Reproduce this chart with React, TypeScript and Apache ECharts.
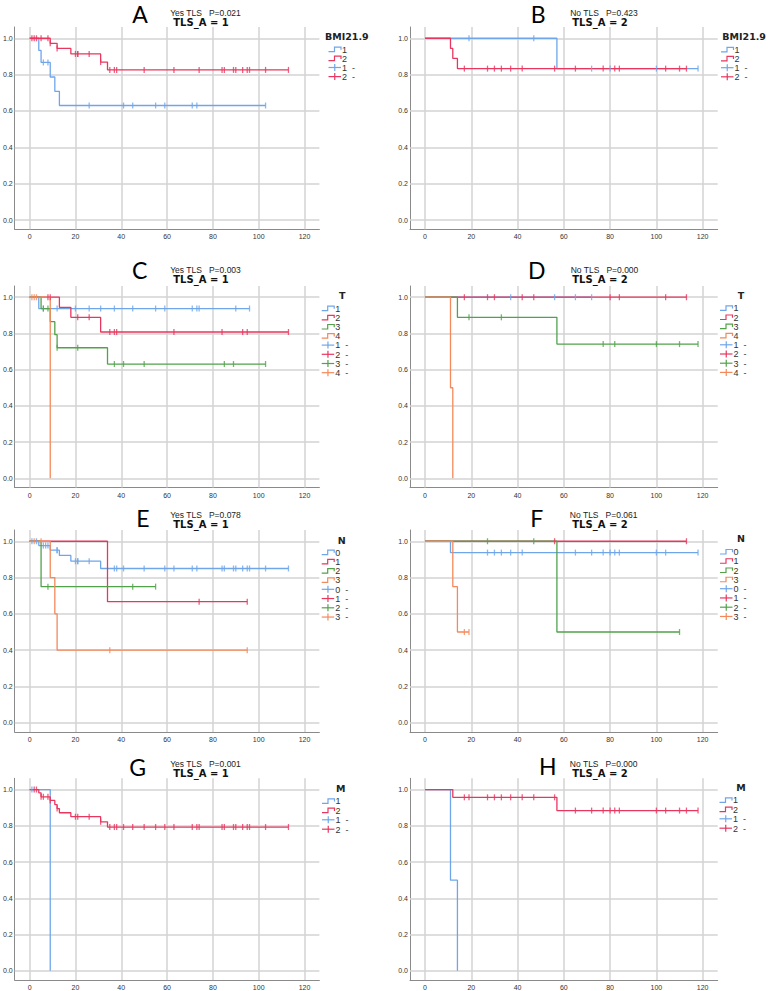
import React, { useEffect, useRef } from "react";
import * as echarts from "echarts";

// ---------------- data ----------------
const X_TICKS = [0, 20, 40, 60, 80, 100, 120];
const Y_TICKS = [0, 0.2, 0.4, 0.6, 0.8, 1.0];

const PANEL_LETTERS = ["A", "B", "C", "D", "E", "F", "G", "H"];
const PANEL_SUBTITLES = [
  "Yes TLS   P=0.021",
  "No TLS   P=0.423",
  "Yes TLS   P=0.003",
  "No TLS   P=0.000",
  "Yes TLS   P=0.078",
  "No TLS   P=0.061",
  "Yes TLS   P=0.001",
  "No TLS   P=0.000",
];
const PANEL_STRATA = ["TLS_A = 1", "TLS_A = 2", "TLS_A = 1", "TLS_A = 2", "TLS_A = 1", "TLS_A = 2", "TLS_A = 1", "TLS_A = 2"];
const LEGEND_TITLES = ["BMI21.9", "BMI21.9", "T", "T", "N", "N", "M", "M"];

// Panel A (BMI21.9, TLS_A = 1)
const A_G1_STEPS = [[0, 1], [4, 0.933], [5, 0.867], [9, 0.787], [11, 0.708], [13, 0.63]];
const A_G1_CENSOR = [6, 8, 26, 41, 45, 55, 59, 71, 73, 103];
const A_G2_STEPS = [[0, 1], [9, 0.972], [12, 0.944], [18, 0.914], [31, 0.869], [34, 0.826]];
const A_G2_CENSOR = [1, 2, 3, 5, 8, 9, 12, 20, 21, 21, 26, 31, 35, 37, 38, 50, 63, 74, 84, 85, 89, 90, 93, 95, 96, 103, 113];

// Panel B (BMI21.9, TLS_A = 2)
const B_G1_STEPS = [[0, 1], [57, 0.833]];
const B_G1_CENSOR = [19, 47, 72, 80, 100, 118];
const B_G2_STEPS = [[0, 1], [11, 0.944], [12, 0.889], [14, 0.833]];
const B_G2_CENSOR = [17, 27, 30, 33, 37, 42, 56, 65, 77, 82, 84, 104, 110, 113];

// Panel C (T, TLS_A = 1)
const C_T1_STEPS = [[0, 1], [4, 0.9375]];
const C_T1_CENSOR = [6, 12, 20, 26, 31, 37, 45, 55, 59, 71, 73, 74, 90, 96];
const C_T2_STEPS = [[0, 1], [13, 0.944], [18, 0.889], [31, 0.808]];
const C_T2_CENSOR = [8, 9, 21, 26, 35, 37, 38, 63, 84, 93, 95, 113];
const C_T3_STEPS = [[0, 1], [5, 0.9375], [9, 0.865], [11, 0.793], [12, 0.721], [34, 0.631]];
const C_T3_CENSOR = [6, 8, 12, 21, 37, 41, 50, 85, 89, 103];
const C_T4_STEPS = [[0, 1], [9, 0]];
const C_T4_CENSOR = [1, 2, 3];

// Panel D (T, TLS_A = 2)
const D_T1_STEPS = [[0, 1]];
const D_T1_CENSOR = [37, 56, 65, 72];
const D_T2_STEPS = [[0, 1]];
const D_T2_CENSOR = [17, 27, 30, 42, 47, 80, 84, 104, 113];
const D_T3_STEPS = [[0, 1], [14, 0.889], [57, 0.741]];
const D_T3_CENSOR = [19, 33, 77, 82, 100, 110, 118];
const D_T4_STEPS = [[0, 1], [11, 0.5], [12, 0]];
const D_T4_CENSOR: number[] = [];

// Panel E (N, TLS_A = 1)
const E_N0_STEPS = [[0, 1], [4, 0.976], [9, 0.951], [13, 0.922], [18, 0.89], [31, 0.85]];
const E_N0_CENSOR = [1, 3, 6, 7, 8, 12, 12, 20, 21, 21, 26, 37, 38, 41, 50, 59, 63, 71, 73, 84, 85, 89, 90, 93, 95, 96, 103, 113];
const E_N1_STEPS = [[0, 1], [34, 0.667]];
const E_N1_CENSOR = [74, 95];
const E_N2_STEPS = [[0, 1], [5, 0.75]];
const E_N2_CENSOR = [8, 45, 55];
const E_N3_STEPS = [[0, 1], [9, 0.8], [11, 0.6], [12, 0.4]];
const E_N3_CENSOR = [2, 5, 35, 95];

// Panel F (N, TLS_A = 2)
const F_N0_STEPS = [[0, 1], [11, 0.9375]];
const F_N0_CENSOR = [27, 30, 33, 37, 42, 65, 72, 77, 80, 82, 84, 100, 104, 118];
const F_N1_STEPS = [[0, 1]];
const F_N1_CENSOR = [56, 113];
const F_N2_STEPS = [[0, 1], [57, 0.5]];
const F_N2_CENSOR = [27, 47, 110];
const F_N3_STEPS = [[0, 1], [12, 0.75], [14, 0.5]];
const F_N3_CENSOR = [17, 19];

// Panel G (M, TLS_A = 1)
const G_M1_STEPS = [[0, 1], [9, 0]];
const G_M1_CENSOR = [1];
const G_M2_STEPS = [[0, 1], [4, 0.982], [5, 0.96], [9, 0.94], [11, 0.917], [12, 0.895], [13, 0.872], [18, 0.85], [31, 0.822], [34, 0.793]];
const G_M2_CENSOR = [2, 3, 5, 6, 8, 9, 12, 20, 21, 26, 31, 35, 37, 38, 41, 45, 50, 55, 59, 63, 71, 73, 74, 84, 85, 89, 90, 93, 95, 96, 103, 113];

// Panel H (M, TLS_A = 2)
const H_M1_STEPS = [[0, 1], [11, 0.5], [14, 0]];
const H_M1_CENSOR: number[] = [];
const H_M2_STEPS = [[0, 1], [12, 0.957], [57, 0.884]];
const H_M2_CENSOR = [17, 19, 27, 30, 33, 37, 42, 47, 56, 65, 72, 77, 80, 82, 84, 100, 104, 110, 113, 118];

const PANELS = [
  [{ label: "1", steps: A_G1_STEPS, censor: A_G1_CENSOR }, { label: "2", steps: A_G2_STEPS, censor: A_G2_CENSOR }],
  [{ label: "1", steps: B_G1_STEPS, censor: B_G1_CENSOR }, { label: "2", steps: B_G2_STEPS, censor: B_G2_CENSOR }],
  [
    { label: "1", steps: C_T1_STEPS, censor: C_T1_CENSOR },
    { label: "2", steps: C_T2_STEPS, censor: C_T2_CENSOR },
    { label: "3", steps: C_T3_STEPS, censor: C_T3_CENSOR },
    { label: "4", steps: C_T4_STEPS, censor: C_T4_CENSOR },
  ],
  [
    { label: "1", steps: D_T1_STEPS, censor: D_T1_CENSOR },
    { label: "2", steps: D_T2_STEPS, censor: D_T2_CENSOR },
    { label: "3", steps: D_T3_STEPS, censor: D_T3_CENSOR },
    { label: "4", steps: D_T4_STEPS, censor: D_T4_CENSOR },
  ],
  [
    { label: "0", steps: E_N0_STEPS, censor: E_N0_CENSOR },
    { label: "1", steps: E_N1_STEPS, censor: E_N1_CENSOR },
    { label: "2", steps: E_N2_STEPS, censor: E_N2_CENSOR },
    { label: "3", steps: E_N3_STEPS, censor: E_N3_CENSOR },
  ],
  [
    { label: "0", steps: F_N0_STEPS, censor: F_N0_CENSOR },
    { label: "1", steps: F_N1_STEPS, censor: F_N1_CENSOR },
    { label: "2", steps: F_N2_STEPS, censor: F_N2_CENSOR },
    { label: "3", steps: F_N3_STEPS, censor: F_N3_CENSOR },
  ],
  [{ label: "1", steps: G_M1_STEPS, censor: G_M1_CENSOR }, { label: "2", steps: G_M2_STEPS, censor: G_M2_CENSOR }],
  [{ label: "1", steps: H_M1_STEPS, censor: H_M1_CENSOR }, { label: "2", steps: H_M2_STEPS, censor: H_M2_CENSOR }],
];

// ---------------- layout & style ----------------
const COLORS = ["#6fa6ea", "#e8375f", "#52a24b", "#f4895b"];
const GRID_COLOR = "#d3d3d3";
const AXIS_COLOR = "#8a8a8a";
const X_MIN = -6.5;
const X_MAX = 126.5;
const Y_MIN = -0.051;
const Y_MAX = 1.062;
const COL_LEFT = [11.7, 410];
const ROW_TOP = [27, 286, 530, 778.3];
const ROW_HEIGHT = [202.3, 201.5, 202, 202];
const GRID_WIDTH = 307.7;

const TITLE_LAYOUT = [
  { lx: 140, ly: 13.5, sx: 205.5, sy: 12.6, tx: 201, ty: 22.3 },
  { lx: 538.3, ly: 13.5, sx: 604, sy: 12.6, tx: 600, ty: 22.3 },
  { lx: 139.7, ly: 270, sx: 205.5, sy: 270.3, tx: 201, ty: 279.8 },
  { lx: 536.7, ly: 270, sx: 604.5, sy: 270.3, tx: 600, ty: 279.9 },
  { lx: 142.8, ly: 518, sx: 205.5, sy: 515.3, tx: 201, ty: 524.9 },
  { lx: 536.7, ly: 518, sx: 603.7, sy: 515, tx: 600, ty: 524.6 },
  { lx: 137.7, ly: 766.7, sx: 205.5, sy: 764.3, tx: 201, ty: 773.9 },
  { lx: 547.8, ly: 766.2, sx: 603.7, sy: 763.6, tx: 600, ty: 773.3 },
];

const LEGEND_LAYOUT = [
  { tx: 325, ty: 36, ta: "left", ix: 328.5, y0: 49.3, dy: 9.1 },
  { tx: 722.3, ty: 36, ta: "left", ix: 721, y0: 49.5, dy: 9.1 },
  { tx: 342.3, ty: 295, ta: "center", ix: 321.7, y0: 308.3, dy: 9.2 },
  { tx: 741, ty: 295, ta: "center", ix: 720, y0: 308, dy: 9.2 },
  { tx: 341.7, ty: 540, ta: "center", ix: 321.7, y0: 552.3, dy: 9.25 },
  { tx: 741, ty: 538.3, ta: "center", ix: 720, y0: 551.7, dy: 9.25 },
  { tx: 340.7, ty: 788.3, ta: "center", ix: 322, y0: 801, dy: 9.4 },
  { tx: 741, ty: 787.7, ta: "center", ix: 719.5, y0: 800, dy: 9.4 },
];

function survivalAt(steps: number[][], t: number): number {
  let v = steps[0][1];
  for (const [st, sv] of steps) if (st <= t) v = sv;
  return v;
}

function buildOption() {
  const grid: any[] = [];
  const xAxis: any[] = [];
  const yAxis: any[] = [];
  const series: any[] = [];
  const graphic: any[] = [];

  PANELS.forEach((curves, p) => {
    const row = Math.floor(p / 2);
    const col = p % 2;
    grid.push({ left: COL_LEFT[col], top: ROW_TOP[row], width: GRID_WIDTH, height: ROW_HEIGHT[row], containLabel: false });
    xAxis.push({
      type: "value",
      gridIndex: p,
      min: X_MIN,
      max: X_MAX,
      axisLine: { show: true, onZero: false, lineStyle: { color: AXIS_COLOR, width: 1 } },
      axisTick: { show: false },
      splitLine: { show: false },
      axisLabel: { customValues: X_TICKS, fontSize: 7, color: "#333", margin: 4, fontFamily: "Liberation Sans" },
    });
    yAxis.push({
      type: "value",
      gridIndex: p,
      min: Y_MIN,
      max: Y_MAX,
      axisLine: { show: true, onZero: false, lineStyle: { color: AXIS_COLOR, width: 1 } },
      axisTick: { show: false },
      splitLine: { show: false },
      axisLabel: {
        customValues: Y_TICKS,
        formatter: (v: number) => v.toFixed(1),
        fontSize: 7,
        color: "#333",
        margin: 2,
        fontFamily: "Liberation Sans",
      },
    });
    // grid lines
    series.push({
      type: "line",
      xAxisIndex: p,
      yAxisIndex: p,
      data: [],
      silent: true,
      z: 1,
      markLine: {
        silent: true,
        z: 1,
        symbol: ["none", "none"],
        label: { show: false },
        emphasis: { disabled: true },
        lineStyle: { color: GRID_COLOR, width: 1.5, type: "solid" },
        data: [...X_TICKS.map((v) => ({ xAxis: v })), ...Y_TICKS.map((v) => ({ yAxis: v }))],
      },
    });

    curves.forEach((c, gi) => {
      const color = COLORS[gi];
      const lastStep = c.steps[c.steps.length - 1];
      const end = Math.max(lastStep[0], ...(c.censor.length ? c.censor : [lastStep[0]]));
      const lineData = c.steps.map((s) => [s[0], s[1]]);
      if (end > lastStep[0]) lineData.push([end, lastStep[1]]);
      series.push({
        type: "line",
        name: c.label,
        xAxisIndex: p,
        yAxisIndex: p,
        step: "end",
        data: lineData,
        showSymbol: false,
        symbol: "none",
        lineStyle: { color, width: 1.3 },
        itemStyle: { color },
        emphasis: { disabled: true },
        z: 3,
      });
      series.push({
        type: "scatter",
        name: c.label + " -",
        xAxisIndex: p,
        yAxisIndex: p,
        data: c.censor.map((t) => [t, survivalAt(c.steps, t)]),
        symbol: "rect",
        symbolSize: [1.3, 6],
        itemStyle: { color },
        emphasis: { disabled: true },
        z: 4,
      });
    });

    // titles
    const tl = TITLE_LAYOUT[p];
    graphic.push({
      type: "text",
      x: tl.lx,
      y: tl.ly,
      style: { text: PANEL_LETTERS[p], fontSize: 23, fontFamily: "Lato", fill: "#000", textAlign: "center", textVerticalAlign: "middle", align: "center", verticalAlign: "middle" },
    });
    graphic.push({
      type: "text",
      x: tl.sx,
      y: tl.sy,
      style: { text: PANEL_SUBTITLES[p], fontSize: 8.5, fontFamily: "Liberation Sans", fill: "#222", textAlign: "center", textVerticalAlign: "middle", align: "center", verticalAlign: "middle" },
    });
    graphic.push({
      type: "text",
      x: tl.tx,
      y: tl.ty,
      style: { text: PANEL_STRATA[p], fontSize: 10, fontWeight: "bold", fontFamily: "DejaVu Sans", fill: "#111", textAlign: "center", textVerticalAlign: "middle", align: "center", verticalAlign: "middle" },
    });

    // legend
    const lg = LEGEND_LAYOUT[p];
    graphic.push({
      type: "text",
      x: lg.tx,
      y: lg.ty,
      style: { text: LEGEND_TITLES[p], fontSize: 9.5, fontWeight: "bold", fontFamily: "DejaVu Sans", fill: "#222", textAlign: lg.ta, textVerticalAlign: "middle", align: lg.ta, verticalAlign: "middle" },
    });
    const n = curves.length;
    curves.forEach((c, gi) => {
      const color = COLORS[gi];
      const y = lg.y0 + gi * lg.dy;
      graphic.push({
        type: "polyline",
        shape: { points: [[lg.ix, y + 2.3], [lg.ix + 6, y + 2.3], [lg.ix + 6, y - 2.2], [lg.ix + 12.5, y - 2.2], [lg.ix + 12.5, y + 0.5]] },
        style: { stroke: color, lineWidth: 1.2, fill: null },
      });
      graphic.push({
        type: "text",
        x: lg.ix + 13.5,
        y: y + 0.3,
        style: { text: c.label, fontSize: 9, fontFamily: "Liberation Sans", fill: "#333", textAlign: "left", textVerticalAlign: "middle", align: "left", verticalAlign: "middle" },
      });
      const y2 = lg.y0 + (n + gi) * lg.dy;
      graphic.push({
        type: "line",
        shape: { x1: lg.ix, y1: y2, x2: lg.ix + 12.5, y2: y2 },
        style: { stroke: color, lineWidth: 1.2 },
      });
      graphic.push({
        type: "line",
        shape: { x1: lg.ix + 6.25, y1: y2 - 3.5, x2: lg.ix + 6.25, y2: y2 + 3.5 },
        style: { stroke: color, lineWidth: 1.2 },
      });
      graphic.push({
        type: "text",
        x: lg.ix + 13.5,
        y: y2 + 0.3,
        style: { text: c.label + "  -", fontSize: 9, fontFamily: "Liberation Sans", fill: "#333", textAlign: "left", textVerticalAlign: "middle", align: "left", verticalAlign: "middle" },
      });
    });
  });

  return {
    animation: false,
    backgroundColor: "#ffffff",
    grid,
    xAxis,
    yAxis,
    series,
    graphic,
  };
}

export default function App() {
  const ref = useRef<HTMLDivElement>(null);
  useEffect(() => {
    document.body.style.margin = "0";
    if (!ref.current) return;
    const chart = echarts.init(ref.current, undefined, { renderer: "svg" });
    chart.setOption(buildOption() as any);
    return () => chart.dispose();
  }, []);
  return <div ref={ref} style={{ width: 769, height: 991 }} />;
}
